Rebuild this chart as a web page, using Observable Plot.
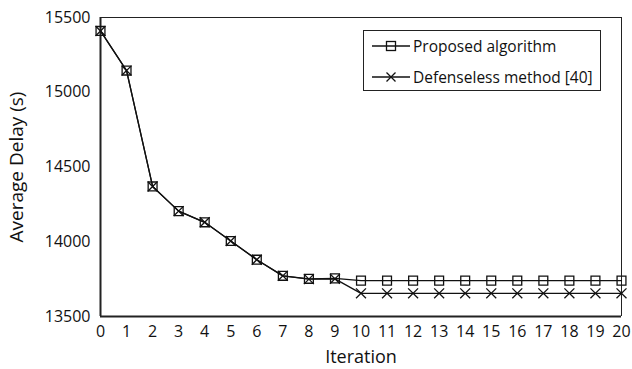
<!DOCTYPE html>
<html>
<head>
<meta charset="utf-8">
<script src="https://cdn.jsdelivr.net/npm/d3@7"></script>
<script src="https://cdn.jsdelivr.net/npm/@observablehq/plot@0.6"></script>
<style>
  html, body { margin: 0; padding: 0; background: #fff; }
  #wrap { position: relative; width: 632px; height: 369px; font-family: "Open Sans", sans-serif; }
  #legend { position: absolute; left: 363px; top: 30px; width: 238px; height: 61px; border: 1px solid #222; background: #fff; box-sizing: border-box; }
  .row { position: absolute; left: 8px; height: 20px; display: flex; align-items: center; font-size: 15.5px; color: #111; white-space: nowrap; }
  .row svg { margin-right: 3px; flex: none; }
</style>
</head>
<body>
<div id="wrap">
  <div id="chart"></div>
  <div id="legend">
    <div class="row" style="top: 5px;"><svg width="38" height="16"><line x1="0" x2="38" y1="8" y2="8" stroke="#111" stroke-width="1.3"/><rect x="14.5" y="3.5" width="9" height="9" fill="none" stroke="#111" stroke-width="1.3"/></svg><span>Proposed algorithm</span></div>
    <div class="row" style="top: 36px;"><svg width="38" height="16"><line x1="0" x2="38" y1="8" y2="8" stroke="#111" stroke-width="1.3"/><path d="M14.5,3.5L23.5,12.5M23.5,3.5L14.5,12.5" stroke="#111" stroke-width="1.3"/></svg><span>Defenseless method [40]</span></div>
  </div>
</div>
<script>
const iterations = d3.range(0, 21);
const proposed = [15410, 15145, 14370, 14205, 14130, 14005, 13880, 13772, 13752, 13755, 13740, 13740, 13740, 13740, 13740, 13740, 13740, 13740, 13740, 13740, 13740];
const defenseless = [15410, 15145, 14370, 14205, 14130, 14005, 13880, 13772, 13750, 13752, 13655, 13655, 13655, 13655, 13655, 13655, 13655, 13655, 13655, 13655, 13655];
const yTicks = [13500, 14000, 14500, 15000, 15500];

const dataP = iterations.map((x, i) => ({x, y: proposed[i]}));
const dataD = iterations.map((x, i) => ({x, y: defenseless[i]}));

const chart = Plot.plot({
  width: 632,
  height: 369,
  marginLeft: 100,
  marginRight: 11,
  marginTop: 17,
  marginBottom: 53,
  style: {fontFamily: "Open Sans, sans-serif", color: "#111", background: "#fff"},
  x: {domain: [0, 20]},
  y: {domain: [13500, 15500]},
  marks: [
    Plot.axisX({ticks: iterations, tickSize: 0, tickPadding: 9, fontSize: 16, label: null}),
    Plot.axisX({ticks: [], tickSize: 0, fontSize: 18, label: "Iteration", labelAnchor: "center", labelArrow: "none", labelOffset: 46}),
    Plot.axisY({ticks: yTicks, tickSize: 0, tickPadding: 10, fontSize: 16, tickFormat: d => String(d), label: null}),
    Plot.axisY({ticks: [], tickSize: 0, fontSize: 19, label: "Average Delay (s)", labelAnchor: "center", labelArrow: "none", labelOffset: 91}),
    Plot.ruleY([15500], {stroke: "#222", strokeWidth: 1}),
    Plot.ruleX([20], {stroke: "#222", strokeWidth: 1}),
    Plot.ruleX([0], {stroke: "#222", strokeWidth: 2}),
    Plot.ruleY([13500], {stroke: "#222", strokeWidth: 2}),
    Plot.line(dataD, {x: "x", y: "y", stroke: "#111", strokeWidth: 1.3}),
    Plot.line(dataP, {x: "x", y: "y", stroke: "#111", strokeWidth: 1.3}),
    Plot.dot(dataD, {x: "x", y: "y", symbol: "times", r: 4.6, stroke: "#111", strokeWidth: 1.3}),
    Plot.dot(dataP, {x: "x", y: "y", symbol: "square", r: 5, stroke: "#111", fill: "none", strokeWidth: 1.3})
  ]
});
document.getElementById("chart").appendChild(chart);
</script>
</body>
</html>
